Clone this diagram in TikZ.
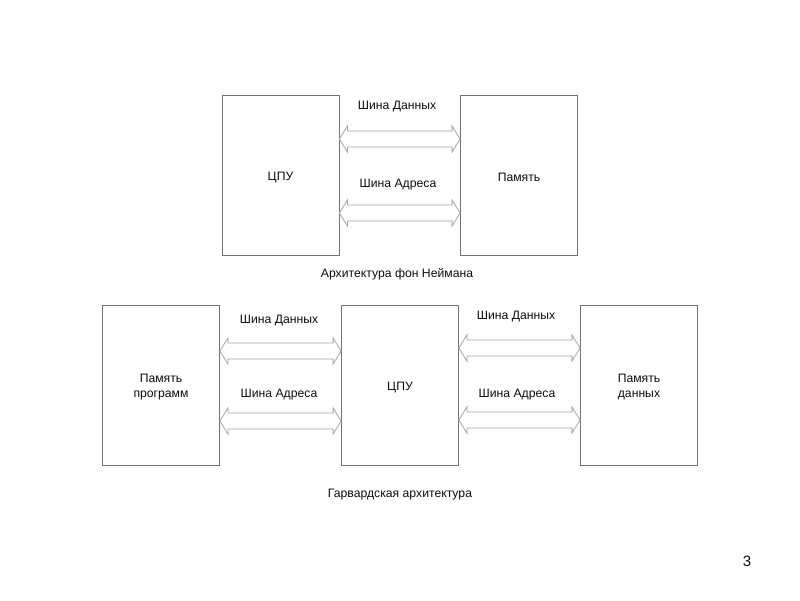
\documentclass[tikz,border=0pt]{standalone}
\usepackage{fontspec}
\setmainfont{Liberation Sans}
\usetikzlibrary{calc}
\newcommand\busarrow[3]{%
  \coordinate (lt) at (#1.east |- 0,#3);
  \coordinate (rt) at (#2.west |- 0,#3);
  \draw[busline] (lt) -- ($(lt)+(8,-13)$) -- ($(lt)+(8,-8)$) -- ($(rt)+(-8,-8)$) -- ($(rt)+(-8,-13)$) -- (rt)
    -- ($(rt)+(-8,13)$) -- ($(rt)+(-8,8)$) -- ($(lt)+(8,8)$) -- ($(lt)+(8,13)$) -- cycle;}
\begin{document}
\begin{tikzpicture}[x=1pt,y=-1pt,
  lbl/.style={font=\fontsize{12.2}{15}\selectfont, text=black!95, inner sep=0pt, align=center},
  block/.style={draw=black!55, line width=0.8pt, fill=white, minimum width=117pt, minimum height=160pt, inner sep=0pt},
  btext/.style={label={[lbl,yshift=-2.5pt]center:#1}},
  busline/.style={draw=black!35, line width=0.8pt, fill=white, line join=miter}]
\useasboundingbox (0,0) rectangle (800,600);
\fill[white] (0,0) rectangle (800,600);
% Von Neumann
\node[block, btext={ЦПУ}] (cpu1) at (280.5,175) {};
\node[block, btext={Память}] (mem1) at (519,175) {};
\busarrow{cpu1}{mem1}{139}
\busarrow{cpu1}{mem1}{213}
\node[lbl] (d1) at (397,106.5) {Шина Данных};
\node[lbl] (a1) at (398,184.5) {Шина Адреса};
\node[lbl] (cap1) at (397,274) {Архитектура фон Неймана};
% Harvard
\node[block, btext={Память\\программ}] (pmem) at (161,385) {};
\node[block, btext={ЦПУ}] (cpu2) at (400,385) {};
\node[block, btext={Память\\данных}] (dmem) at (639,385) {};
\busarrow{pmem}{cpu2}{351}
\busarrow{pmem}{cpu2}{421}
\busarrow{cpu2}{dmem}{348}
\busarrow{cpu2}{dmem}{420}
\node[lbl] (d2) at (279,320.5) {Шина Данных};
\node[lbl] (a2) at (279,394.5) {Шина Адреса};
\node[lbl] (d3) at (516,316.5) {Шина Данных};
\node[lbl] (a3) at (517,394.5) {Шина Адреса};
\node[lbl] (cap2) at (400,495) {Гарвардская архитектура};
\node[lbl, font=\fontsize{15}{18}\selectfont] (pg) at (747,561) {3};
\end{tikzpicture}
\end{document}
